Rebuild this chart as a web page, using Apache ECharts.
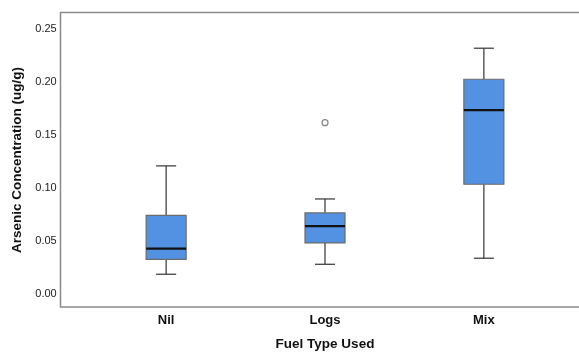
<!DOCTYPE html>
<html>
<head>
<meta charset="utf-8">
<script src="https://cdn.jsdelivr.net/npm/echarts@6/dist/echarts.min.js"></script>
<style>html,body{margin:0;padding:0;background:#fff;}#c{width:579px;height:352px;}</style>
</head>
<body>
<div id="c"></div>
<script>
const categories = ['Nil', 'Logs', 'Mix'];
const whiskerLow = [0.0186, 0.0280, 0.0337];
const q1 = [0.0327, 0.0481, 0.1035];
const median = [0.0427, 0.0639, 0.1733];
const q3 = [0.0742, 0.0764, 0.2025];
const whiskerHigh = [0.1208, 0.0896, 0.2318];
const outlierCats = ['Logs'];
const outlierVals = [0.1616];
const yTicks = [0, 0.05, 0.10, 0.15, 0.20, 0.25];

const boxData = categories.map((c, i) => [i, whiskerLow[i], q1[i], median[i], q3[i], whiskerHigh[i]]);
const outData = outlierCats.map((c, i) => [c, outlierVals[i]]);

const chart = echarts.init(document.getElementById('c'), null, {renderer: 'canvas'});
const FONT = 'Liberation Sans, Arial, sans-serif';

function renderBox(params, api) {
  const x = api.value(0);
  const lo = api.coord([x, api.value(1)]);
  const b1 = api.coord([x, api.value(2)]);
  const md = api.coord([x, api.value(3)]);
  const b3 = api.coord([x, api.value(4)]);
  const hi = api.coord([x, api.value(5)]);
  const cx = lo[0];
  const bw = 40, cw = 20;
  const wStyle = {stroke: '#333', lineWidth: 1.2};
  return {
    type: 'group',
    children: [
      {type: 'line', shape: {x1: cx, y1: hi[1], x2: cx, y2: b3[1]}, style: wStyle},
      {type: 'line', shape: {x1: cx, y1: b1[1], x2: cx, y2: lo[1]}, style: wStyle},
      {type: 'line', shape: {x1: cx - cw / 2, y1: hi[1], x2: cx + cw / 2, y2: hi[1]}, style: wStyle},
      {type: 'line', shape: {x1: cx - cw / 2, y1: lo[1], x2: cx + cw / 2, y2: lo[1]}, style: wStyle},
      {type: 'rect', shape: {x: cx - bw / 2, y: b3[1], width: bw, height: b1[1] - b3[1]},
        style: {fill: '#5392E2', stroke: '#6b6b6b', lineWidth: 1.2}},
      {type: 'line', shape: {x1: cx - bw / 2, y1: md[1], x2: cx + bw / 2, y2: md[1]},
        style: {stroke: '#111', lineWidth: 2.2}}
    ]
  };
}

chart.setOption({
  animation: false,
  backgroundColor: '#fff',
  grid: {left: 86.7, right: 15.7, top: 13, bottom: 45, show: false, outerBoundsMode: 'none', containLabel: false},
  graphic: [{
    type: 'rect', z: -1,
    shape: {x: 60.5, y: 12.5, width: 520, height: 294.5},
    style: {fill: 'none', stroke: '#8a8a8a', lineWidth: 1.5}
  }],
  xAxis: {
    type: 'category',
    data: categories,
    axisLine: {show: false},
    axisTick: {show: false},
    splitLine: {show: false},
    axisLabel: {fontFamily: FONT, fontWeight: 'bold', fontSize: 13, color: '#111', margin: 7},
    name: 'Fuel Type Used',
    nameLocation: 'middle',
    nameGap: 30,
    nameTextStyle: {fontFamily: FONT, fontWeight: 'bold', fontSize: 13.5, color: '#111'}
  },
  yAxis: {
    type: 'value',
    min: -0.0123,
    max: 0.265,
    axisLine: {show: false},
    axisTick: {show: false},
    splitLine: {show: false},
    axisLabel: {
      customValues: yTicks,
      fontFamily: FONT, fontSize: 11, color: '#222', margin: 30,
      formatter: v => v.toFixed(2)
    },
    name: 'Arsenic Concentration (ug/g)',
    nameLocation: 'middle',
    nameGap: 59,
    nameTextStyle: {fontFamily: FONT, fontWeight: 'bold', fontSize: 13.5, color: '#111'}
  },
  series: [
    {
      type: 'custom',
      renderItem: renderBox,
      data: boxData,
      encode: {x: 0, y: [1, 2, 3, 4, 5]}
    },
    {
      type: 'scatter',
      data: outData,
      symbol: 'circle',
      symbolSize: 6,
      itemStyle: {color: '#fff', borderColor: '#666', borderWidth: 1.2}
    }
  ]
});
</script>
</body>
</html>
